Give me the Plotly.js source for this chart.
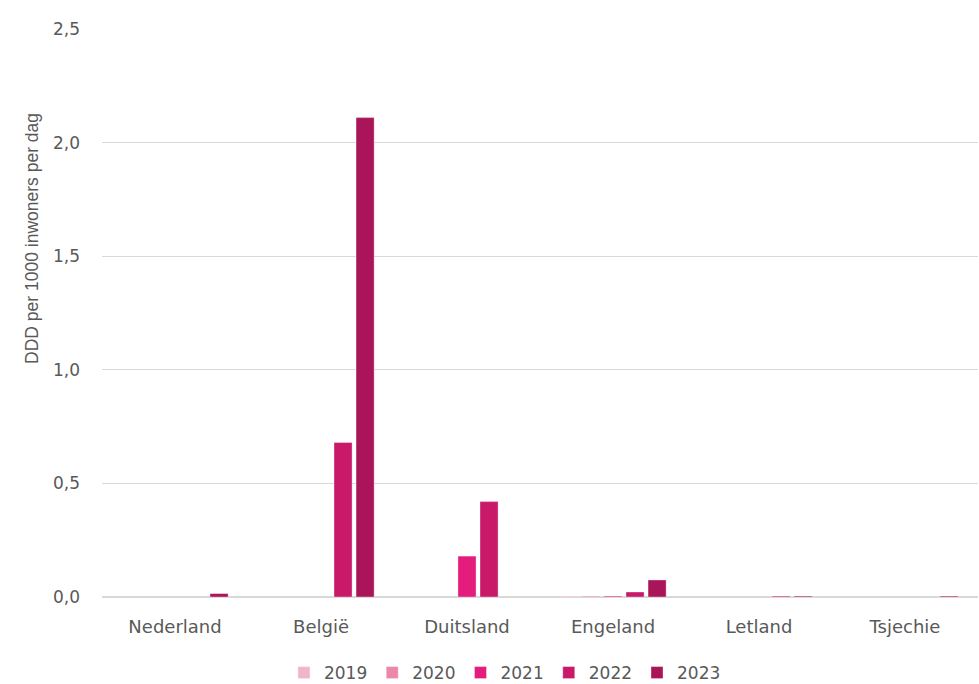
<!DOCTYPE html>
<html>
<head>
<meta charset="utf-8">
<script src="https://cdn.plot.ly/plotly-3.0.1.min.js"></script>
<style>html,body{margin:0;padding:0;background:#fff;}#chart{width:979px;height:684px;}</style>
</head>
<body>
<div id="chart"></div>
<script>
const categories = ["Nederland", "België", "Duitsland", "Engeland", "Letland", "Tsjechie"];
const years = ["2019", "2020", "2021", "2022", "2023"];
const v2019 = [null, null, null, 0.004, null, null];
const v2020 = [null, null, null, 0.004, null, null];
const v2021 = [null, null, 0.18, 0.004, null, null];
const v2022 = [null, 0.68, 0.42, 0.022, 0.004, null];
const v2023 = [0.015, 2.11, null, 0.075, 0.004, 0.004];
const colors = ["#F1B5C9", "#EB88A9", "#E41C7B", "#C91A69", "#AA1459"];
const series = [v2019, v2020, v2021, v2022, v2023];
const yTitle = "DDD per 1000 inwoners per dag";

const traces = series.map((vals, i) => ({
  type: "bar",
  name: years[i],
  x: categories,
  y: vals,
  marker: { color: colors[i], line: { color: "rgba(255,255,255,0.35)", width: 1 } },
  hoverinfo: "x+y+name"
}));

const layout = {
  width: 979,
  height: 684,
  margin: { l: 102, r: 1, t: 29, b: 87, autoexpand: false },
  paper_bgcolor: "#ffffff",
  plot_bgcolor: "#ffffff",
  separators: ",.",
  barmode: "group",
  bargap: 0.245,
  bargroupgap: 0.18,
  font: { family: "DejaVu Sans, Liberation Sans, sans-serif", size: 17, color: "#595959" },
  xaxis: {
    automargin: false,
    showgrid: false,
    showline: false,
    ticks: "",
    ticklabelstandoff: 17,
    tickfont: { size: 18, color: "#595959" },
    zeroline: false
  },
  yaxis: {
    automargin: false,
    range: [0, 2.5],
    dtick: 0.5,
    tickformat: ".1f",
    showgrid: true,
    gridcolor: "#D9D9D9",
    gridwidth: 1,
    zeroline: true,
    zerolinecolor: "#D9D9D9",
    zerolinewidth: 2,
    ticks: "",
    ticklabelstandoff: 21,
    tickfont: { size: 17, color: "#595959" }
  },
  annotations: [{
    text: yTitle,
    textangle: -90,
    xref: "paper", yref: "paper",
    x: -0.08, y: 0.632,
    xanchor: "center", yanchor: "middle",
    showarrow: false,
    font: { family: "Liberation Sans, Arial, sans-serif", size: 17.5, color: "#595959" }
  }],
  showlegend: true,
  legend: {
    orientation: "h",
    x: 0.46,
    xanchor: "center",
    y: -0.1338,
    yanchor: "middle",
    font: { size: 17, color: "#595959" },
    traceorder: "normal",
    itemwidth: 30
  }
};

Plotly.newPlot("chart", traces, layout, { displayModeBar: false, staticPlot: true });
</script>
</body>
</html>
